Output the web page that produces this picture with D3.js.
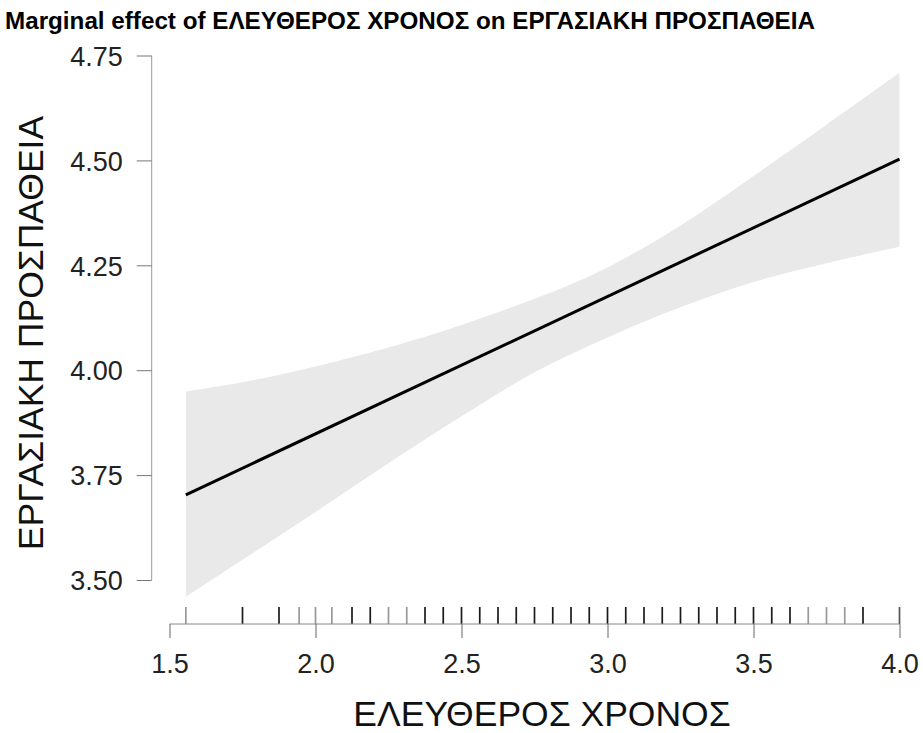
<!DOCTYPE html>
<html>
<head>
<meta charset="utf-8">
<script src="https://cdn.jsdelivr.net/npm/d3@7"></script>
<style>
  html, body { margin: 0; padding: 0; background: #fff; }
  svg { display: block; font-family: "Liberation Sans", Arial, sans-serif; }
</style>
</head>
<body>
<svg id="chart" width="923" height="733"></svg>
<script>
// ---- data ----
const titleText = "Marginal effect of ΕΛΕΥΘΕΡΟΣ ΧΡΟΝΟΣ on ΕΡΓΑΣΙΑΚΗ ΠΡΟΣΠΑΘΕΙΑ";
const xLabel = "ΕΛΕΥΘΕΡΟΣ ΧΡΟΝΟΣ";
const yLabel = "ΕΡΓΑΣΙΑΚΗ ΠΡΟΣΠΑΘΕΙΑ";

const xTicks = [1.5, 2.0, 2.5, 3.0, 3.5, 4.0];
const yTicks = [3.50, 3.75, 4.00, 4.25, 4.50, 4.75];

// fitted line (start/end)
const lineX = [1.556, 4.0];
const lineY = [3.703, 4.503];

// confidence band
const bandX     = [1.556, 1.75, 2.0, 2.25, 2.5, 2.75, 3.0, 3.25, 3.5, 3.75, 4.0];
const bandUpper = [3.949, 3.971, 4.009, 4.054, 4.108, 4.170, 4.245, 4.345, 4.463, 4.585, 4.709];
const bandLower = [3.460, 3.548, 3.662, 3.778, 3.890, 3.995, 4.078, 4.150, 4.210, 4.255, 4.294];

// rug (observed x values) and how many observations share each value
const rugX = [1.556, 1.75, 1.875, 1.944, 2.0, 2.056, 2.125, 2.1875, 2.25, 2.3125, 2.375, 2.4375,
              2.5, 2.5625, 2.625, 2.6875, 2.75, 2.8125, 2.875, 2.9375, 3.0, 3.0625, 3.125, 3.1875,
              3.25, 3.3125, 3.375, 3.4375, 3.5, 3.5625, 3.625, 3.6875, 3.75, 3.8125, 3.875, 4.0];
const rugCounts = [1, 3, 3, 1, 1, 1, 3, 3, 1, 1, 3, 3,
                   3, 3, 3, 3, 3, 3, 3, 3, 3, 3, 3, 3,
                   3, 3, 3, 3, 3, 3, 3, 1, 1, 1, 3, 2];

// ---- drawing ----
const svg = d3.select("#chart");

const x = d3.scaleLinear().domain([1.5, 4.0]).range([169.5, 899.5]);
const y = d3.scaleLinear().domain([3.5, 4.75]).range([580, 55.5]);

// title
svg.append("text")
  .attr("x", 5).attr("y", 29)
  .attr("font-size", 23).attr("font-weight", "bold").attr("fill", "#000")
  .attr("textLength", 810).attr("lengthAdjust", "spacingAndGlyphs")
  .text(titleText);

// band
const bandData = bandX.map((v, i) => ({x: v, lo: bandLower[i], hi: bandUpper[i]}));
svg.append("path")
  .datum(bandData)
  .attr("fill", "#e9e9e9")
  .attr("d", d3.area().curve(d3.curveCatmullRom.alpha(0.5))
    .x(d => x(d.x)).y0(d => y(d.lo)).y1(d => y(d.hi)));

// line
const lineData = lineX.map((v, i) => ({x: v, y: lineY[i]}));
svg.append("path")
  .datum(lineData)
  .attr("fill", "none").attr("stroke", "#000").attr("stroke-width", 3)
  .attr("d", d3.line().x(d => x(d.x)).y(d => y(d.y)));

// rug
const axisY = 624;
svg.append("g").selectAll("line")
  .data(rugX.map((v, i) => ({x: v, n: rugCounts[i]})))
  .join("line")
  .attr("x1", d => x(d.x)).attr("x2", d => x(d.x))
  .attr("y1", axisY - 17).attr("y2", axisY)
  .attr("stroke", d => d.n >= 3 ? "#1a1a1a" : (d.n === 2 ? "#555" : "#999"))
  .attr("stroke-width", 1.7);

// x axis
const gx = svg.append("g").attr("transform", `translate(0,${axisY})`)
  .call(d3.axisBottom(x).tickValues(xTicks).tickSize(14).tickSizeOuter(0)
        .tickFormat(d3.format(".1f")));
gx.select(".domain").attr("stroke", "#888").attr("d", `M${x(1.5)},0H${x(4.0)}`);
gx.selectAll(".tick line").attr("stroke", "#666");
gx.selectAll(".tick text").attr("font-size", 27).attr("fill", "#222")
  .attr("font-family", "Liberation Sans, Arial, sans-serif")
  .attr("y", 49).attr("dy", 0);

// y axis
const axisX = 151.7;
const gy = svg.append("g").attr("transform", `translate(${axisX},0)`)
  .call(d3.axisLeft(y).tickValues(yTicks).tickSize(15).tickSizeOuter(0).tickPadding(14)
        .tickFormat(d3.format(".2f")));
gy.select(".domain").attr("stroke", "#999").attr("d", `M0,${y(4.75)}V${y(3.5)}`);
gy.selectAll(".tick line").attr("stroke", "#777");
gy.selectAll(".tick text").attr("font-size", 27).attr("fill", "#222")
  .attr("font-family", "Liberation Sans, Arial, sans-serif")
  .attr("dy", "0.36em");

// axis titles
svg.append("text")
  .attr("x", 542).attr("y", 726)
  .attr("text-anchor", "middle").attr("font-size", 35.5).attr("fill", "#111")
  .text(xLabel);

svg.append("text")
  .attr("transform", "translate(43,333) rotate(-90)")
  .attr("text-anchor", "middle").attr("font-size", 35.5).attr("fill", "#111")
  .text(yLabel);
</script>
</body>
</html>
